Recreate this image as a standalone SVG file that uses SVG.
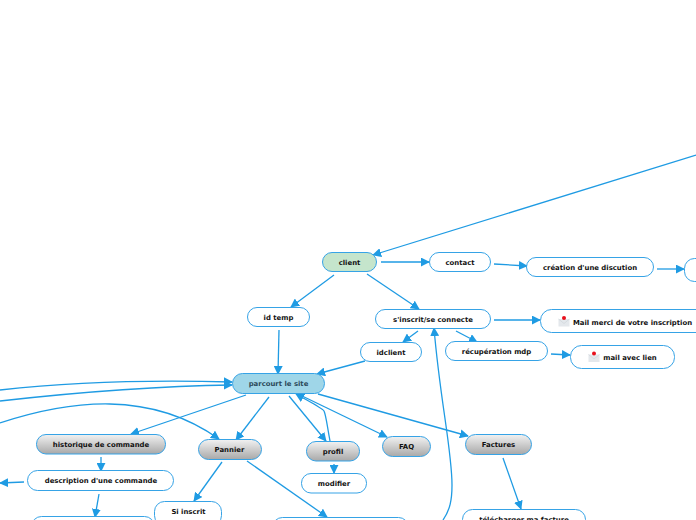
<svg xmlns="http://www.w3.org/2000/svg" width="696" height="520" viewBox="0 0 696 520">
<defs>
<linearGradient id="g" x1="0" y1="0" x2="0" y2="1"><stop offset="0" stop-color="#f2f2f2"/><stop offset="1" stop-color="#a8a8a8"/></linearGradient>
<marker id="a" viewBox="0 0 10 10" refX="9" refY="5" markerWidth="9" markerHeight="9" markerUnits="userSpaceOnUse" orient="auto"><path d="M0 0L10 5L0 10Z" fill="#1f9be3"/></marker>
<g id="mail"><rect x="0" y="3.500" width="11" height="7.500" style="fill:#e4e8ec;stroke:none"/><path d="M0 3.500L5.500 8L11 3.500" fill="none" stroke="#cfd5da" stroke-width="0.700"/><circle cx="5.500" cy="2.600" r="2" fill="#e8101c"/></g>
</defs>
<style>
rect{stroke:#36a3e6;stroke-width:1}
.w{fill:#fff}.n{fill:url(#g)}
text{font-family:"DejaVu Sans",sans-serif;font-weight:700;font-size:6.900px;fill:#111;text-anchor:middle}
#connectors path{fill:none;stroke:#1f9be3;stroke-width:1.300;marker-end:url(#a)}
</style>
<g id="connectors">
<path d="M696 155L373 255"/>
<path d="M381 262L429 262"/>
<path d="M494 264L527 266"/>
<path d="M657 269L684 269"/>
<path d="M334 275L291 307"/>
<path d="M367 274L419 309"/>
<path d="M279 330L278 374"/>
<path d="M418 331L403 342"/>
<path d="M456 331L477 342"/>
<path d="M494 320L540 320"/>
<path d="M551 354L570 355"/>
<path d="M365 361L317 374"/>
<path d="M0 390C80 381 160 380 232 382"/>
<path d="M0 401C80 392 160 386 232 385"/>
<path d="M0 423C70 400 150 390 219 439"/>
<path d="M246 395L131 434"/>
<path d="M269 397L236 440"/>
<path d="M289 396L326 441"/>
<path d="M330 441C327 425 326 415 324 411C322 408 310 402 296 394"/>
<path d="M298 394L387 437"/>
<path d="M318 394L468 436"/>
<path d="M101 457L101 471"/>
<path d="M24 482L0 483"/>
<path d="M99 494L95 517"/>
<path d="M222 462L194 501"/>
<path d="M247 461L327 517"/>
<path d="M334 464L334 473"/>
<path d="M503 458L521 509"/>
<path d="M443 520C450 510 452 500 452 485C452 450 440 400 434 328"/>
</g>
<g id="n-client"><rect x="322.500" y="252.500" width="54" height="19" rx="9.500" fill="#c5e5cc"/><text x="349.500" y="265">client</text></g>
<g id="n-contact"><rect class="w" x="429.500" y="252.500" width="61" height="19" rx="9.500"/><text x="460" y="265">contact</text></g>
<g id="n-discution"><rect class="w" x="526.500" y="257.500" width="127" height="19" rx="9.500"/><text x="590" y="270">création d'une discution</text></g>
<g id="n-cut"><rect class="w" x="684.500" y="258.500" width="40" height="23" rx="10"/></g>
<g id="n-idtemp"><rect class="w" x="247.500" y="307.500" width="62" height="19" rx="9.500"/><text x="278.500" y="320">id temp</text></g>
<g id="n-inscrit"><rect class="w" x="375.500" y="309.500" width="115" height="19" rx="9.500"/><text x="433" y="322">s'inscrit/se connecte</text></g>
<g id="n-mail1"><rect class="w" x="540.500" y="309.500" width="175" height="23" rx="11"/><use href="#mail" x="558.500" y="315.500"/><text x="632.500" y="324.500">Mail merci de votre inscription</text></g>
<g id="n-idclient"><rect class="w" x="360.500" y="342.500" width="61" height="19" rx="9.500"/><text x="391" y="355">idclient</text></g>
<g id="n-recup"><rect class="w" x="445.500" y="341.500" width="102" height="19" rx="9.500"/><text x="496.500" y="354">récupération mdp</text></g>
<g id="n-mail2"><rect class="w" x="570.500" y="345.500" width="104" height="23" rx="11"/><use href="#mail" x="588.500" y="351"/><text x="630" y="360">mail avec lien</text></g>
<g id="n-parcourt"><rect x="232.500" y="373.500" width="92" height="20" rx="10" fill="#9fd6e8"/><text x="278.500" y="386" style="fill:#2c4a5a">parcourt le site</text></g>
<g id="n-historique"><rect class="n" x="36.500" y="434.500" width="129" height="19.500" rx="9.500"/><text x="101" y="447">historique de commande</text></g>
<g id="n-pannier"><rect class="n" x="198.500" y="439.500" width="63" height="20" rx="10"/><text x="229.500" y="452">Pannier</text></g>
<g id="n-profil"><rect class="n" x="306.500" y="441.500" width="53" height="19.500" rx="9.500"/><text x="333" y="454">profil</text></g>
<g id="n-faq"><rect class="n" x="382.500" y="436.500" width="48" height="20" rx="10"/><text x="406.500" y="449">FAQ</text></g>
<g id="n-factures"><rect class="n" x="465.500" y="434.500" width="66" height="20" rx="10"/><text x="498.500" y="447">Factures</text></g>
<g id="n-description"><rect class="w" x="27.500" y="470.500" width="146" height="20" rx="10"/><text x="101" y="483">description d'une commande</text></g>
<g id="n-modifier"><rect class="w" x="301.500" y="473.500" width="65" height="19.500" rx="9.500"/><text x="334" y="486">modifier</text></g>
<g id="n-siinscrit"><rect class="w" x="154.500" y="501.500" width="67" height="24" rx="10"/><text x="188.500" y="514">Si inscrit</text></g>
<g id="n-bottom1"><rect class="w" x="31.500" y="516.500" width="123" height="20" rx="10"/></g>
<g id="n-bottom2"><rect class="w" x="272.500" y="517.500" width="136" height="20" rx="10"/></g>
<g id="n-telecharger"><rect class="w" x="462.500" y="509.500" width="123" height="24" rx="10"/><text x="524" y="521.500">télécharger ma facture</text></g>
</svg>
